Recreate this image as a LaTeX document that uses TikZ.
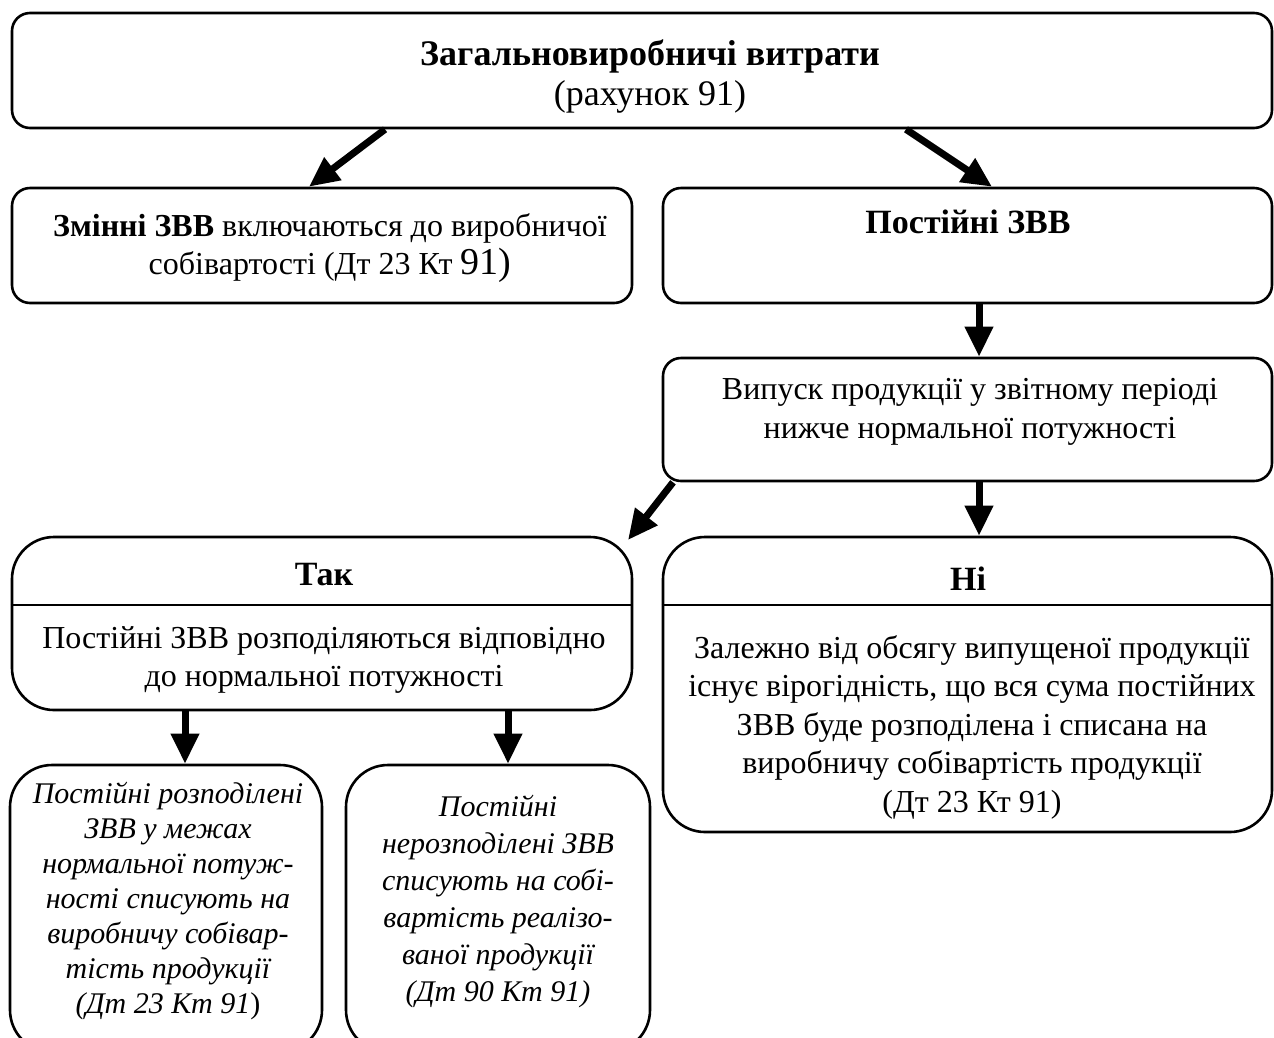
\documentclass[tikz,border=0pt]{standalone}
\usepackage{fontspec}
\setmainfont{Liberation Serif}
\usetikzlibrary{arrows.meta,fit}

\begin{document}
\begin{tikzpicture}[x=1pt,y=-1pt,
  box/.style={draw, line width=2.6pt, rounded corners=18pt, inner sep=0pt},
  bigbox/.style={draw, line width=2.6pt, rounded corners=42pt, inner sep=0pt},
  divider/.style={line width=1.4pt},
  txt/.style={align=center, inner sep=0pt, font=\fontsize{32}{38.5}\selectfont},
  head/.style={align=center, inner sep=0pt, font=\fontsize{34}{40}\selectfont\bfseries},
  ttl/.style={align=center, inner sep=0pt, font=\fontsize{36}{40}\selectfont},
  itxt/.style={align=center, inner sep=0pt, font=\fontsize{30}{35}\selectfont\itshape},
  itxtb/.style={align=center, inner sep=0pt, font=\fontsize{30}{37}\selectfont\itshape},
  flow/.style={line width=7pt, -{Triangle[width=27pt,length=30pt]}}
]
\useasboundingbox (0,0) rectangle (1274,1037);
\clip (0,0) rectangle (1274,1037);

% boxes
\node[box, fit={(12,13) (1272,128)}] (top) {};
\node[box, fit={(12,188) (632,303)}] (var) {};
\node[box, fit={(663,188) (1272,303)}] (fix) {};
\node[box, fit={(663,358) (1272,481)}] (out) {};
\node[bigbox, fit={(12,537) (632,710)}] (yes) {};
\node[bigbox, fit={(663,537) (1272,832)}] (no) {};
\node[bigbox, fit={(10,765) (322,1052)}] (alloc) {};
\node[bigbox, fit={(346,765) (650,1052)}] (unalloc) {};

% header dividers
\coordinate (ydiv) at (0,605);
\draw[divider] (yes.west |- ydiv) -- (yes.east |- ydiv);
\draw[divider] (no.west |- ydiv) -- (no.east |- ydiv);

% texts
\node[ttl] (toptxt) at (650,76) {\textbf{Загальновиробничі витрати}\\(рахунок 91)};
\node[txt] (vartxt) at (330,248) {\textbf{Змінні ЗВВ} включаються до виробничої\\собівартості (Дт 23 Кт {\fontsize{38}{39}\selectfont 91)}};
\node[head] (fixtxt) at (968,222) {Постійні ЗВВ};
\node[txt] (outtxt) at (970,412) {Випуск продукції у звітному періоді\\нижче нормальної потужності};
\node[head] (yeshead) at (324,575) {Так};
\node[txt] (yestxt) at (324,660) {Постійні ЗВВ розподіляються відповідно\\до нормальної потужності};
\node[head] (nohead) at (968,579) {Ні};
\node[txt] (notxt) at (972,727) {Залежно від обсягу випущеної продукції\\існує вірогідність, що вся сума постійних\\ЗВВ буде розподілена і списана на\\виробничу собівартість продукції\\(Дт 23 Кт 91)};
\node[itxt] (alloctxt) at (168,901) {Постійні розподілені\\ЗВВ у межах\\нормальної потуж-\\ності списують на\\виробничу собівар-\\тість продукції\\(Дт 23 Кт 91\textup{)}};
\node[itxtb] (unalloctxt) at (498,902) {Постійні\\нерозподілені ЗВВ\\списують на собі-\\вартість реалізо-\\ваної продукції\\(Дт 90 Кт 91)};

% connector anchors along the box edges
\coordinate (c1s) at (385,0);
\coordinate (c1e) at (309,0);
\coordinate (c2s) at (906,0);
\coordinate (c2e) at (992,0);
\coordinate (cmid) at (979,0);
\coordinate (c4s) at (673,0);
\coordinate (c4e) at (628,540);
\coordinate (cl) at (185,0);
\coordinate (cr) at (508,0);

% connectors
\draw[flow] (top.south -| c1s) -- (var.north -| c1e);
\draw[flow] (top.south -| c2s) -- (fix.north -| c2e);
\draw[flow] (fix.south -| cmid) -- (out.north -| cmid);
\draw[flow] (out.south -| c4s) -- (c4e);
\draw[flow] (out.south -| cmid) -- (no.north -| cmid);
\draw[flow] (yes.south -| cl) -- (alloc.north -| cl);
\draw[flow] (yes.south -| cr) -- (unalloc.north -| cr);
\end{tikzpicture}
\end{document}
